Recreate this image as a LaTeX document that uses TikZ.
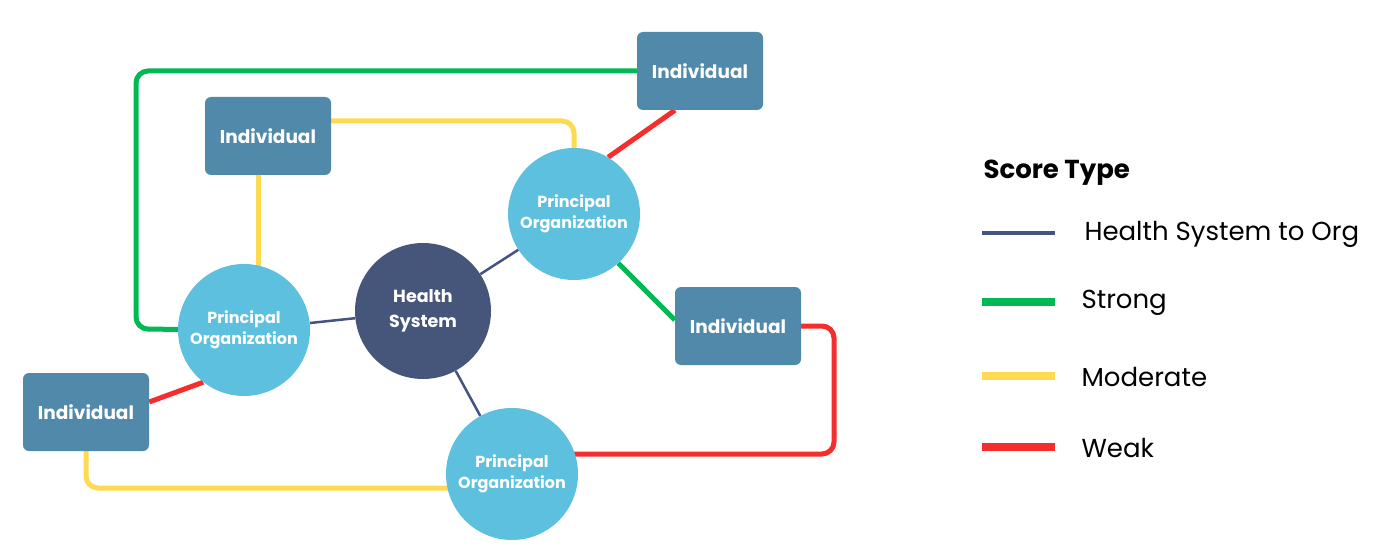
\documentclass[tikz,border=0pt]{standalone}
\usepackage{fontspec}
\setmainfont{Poppins}
\usepackage{xcolor}
\usetikzlibrary{backgrounds}

\definecolor{indblue}{RGB}{81,137,171}
\definecolor{orgblue}{RGB}{93,192,222}
\definecolor{hsnavy}{RGB}{70,85,122}
\definecolor{linknavy}{RGB}{68,84,130}
\definecolor{stronggreen}{RGB}{0,185,85}
\definecolor{modyellow}{RGB}{255,217,80}
\definecolor{weakred}{RGB}{245,45,45}

\begin{document}
\begin{tikzpicture}[x=1pt,y=1pt,yscale=-1,xscale=1,
  indiv/.style={draw=none,fill=indblue,rounded corners=6pt,minimum width=126pt,minimum height=78pt,
    text=white,font=\fontsize{18.5}{22}\selectfont\bfseries},
  porg/.style={circle,fill=orgblue,minimum size=132pt,inner sep=0pt,align=center,
    text=white,font=\fontsize{16}{21}\selectfont\bfseries},
  hsys/.style={circle,fill=hsnavy,minimum size=136pt,inner sep=0pt,align=center,
    text=white,font=\fontsize{17.5}{25}\selectfont\bfseries},
  hslink/.style={draw=linknavy,line width=2.5pt},
  strong/.style={draw=stronggreen,line width=5pt,rounded corners=12pt},
  moderate/.style={draw=modyellow,line width=5pt,rounded corners=12pt},
  weak/.style={draw=weakred,line width=5pt,rounded corners=12pt},
  legtext/.style={anchor=west,font=\fontsize{26}{30}\selectfont}]
\useasboundingbox (0,0) rectangle (1398,559);

%Shape: Health System
\node[hsys] (hs) at (423,311) {Health\\System};
%Shape: Principal Organizations
\node[porg] (poTR) at (574,214) {Principal\\Organization};
\node[porg] (poL) at (244,330) {Principal\\Organization};
\node[porg] (poB) at (512,474) {Principal\\Organization};
%Shape: Individuals
\node[indiv] (indTR) at (700,71) {Individual};
\node[indiv] (indTL) at (268,136) {Individual};
\node[indiv] (indR) at (738,326) {Individual};
\node[indiv] (indBL) at (86,412) {Individual};

%Route corners
\coordinate (gcorner) at (136,329);
\coordinate (yvert) at ([xshift=-10pt]indTL.center);
\coordinate (rcorner) at (834,454);
\coordinate (ycorner) at (86,488);

\begin{scope}[on background layer]
%Straight Lines: health system to org
\draw[hslink] (hs) -- (poTR);
\draw[hslink] (hs) -- (poL);
\draw[hslink] (hs) -- (poB);
%Lines: strong
\draw[strong] (indTR.center) -| (gcorner) -- (poL.center);
\draw[strong] (poTR.-48) -- ([yshift=-6pt]indR.west);
%Lines: moderate
\draw[moderate] ([yshift=-15pt]indTL.center) -| (poTR.center);
\draw[moderate] (yvert) -- (yvert |- poL.center);
\draw[moderate] (indBL.center) -- (ycorner) -- (ycorner -| poB.center);
%Lines: weak
\draw[weak] (poTR.59) -- ([xshift=-25pt]indTR.south);
\draw[weak] (indR.center) -| (rcorner) -- (rcorner -| poB.center);
\draw[weak] (poL.-128) -- ([yshift=-10pt]indBL.east);
\end{scope}

% Text Node
\node[anchor=west,font=\fontsize{26}{30}\selectfont\bfseries] (legtitle) at (980,173) {Score Type};
%Legend lines
\draw[linknavy,line width=4pt] (982,233) -- (1055,233);
\draw[stronggreen,line width=8pt] (982,302) -- (1055,302);
\draw[modyellow,line width=8pt] (982,376) -- (1055,376);
\draw[weakred,line width=8pt] (982,447) -- (1055,447);
% Text Node
\node[legtext] (legHS) at (1081,234) {Health System to Org};
\node[legtext] (legStrong) at (1078,303) {Strong};
\node[legtext] (legMod) at (1078,377) {Moderate};
\node[legtext] (legWeak) at (1078,448) {Weak};

\end{tikzpicture}
\end{document}
